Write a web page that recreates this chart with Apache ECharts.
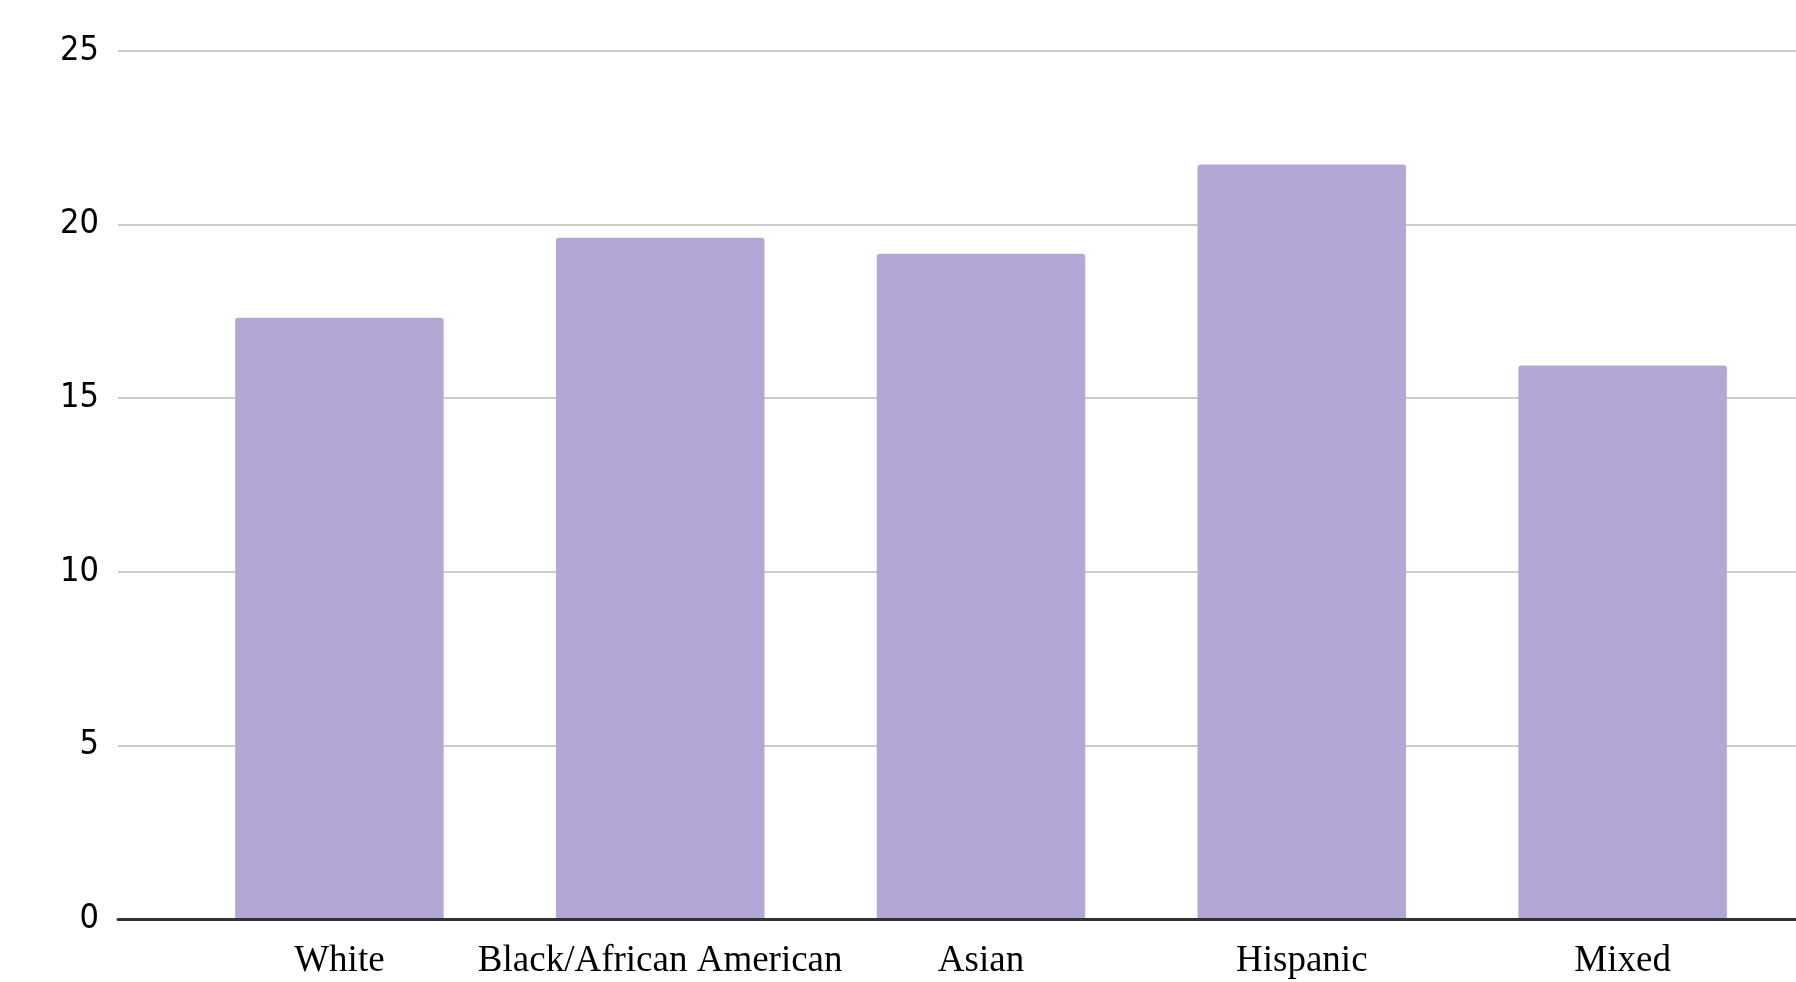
<!DOCTYPE html>
<html>
<head>
<meta charset="utf-8">
<script src="https://cdn.jsdelivr.net/npm/echarts@6/dist/echarts.min.js"></script>
<style>
  html, body { margin: 0; padding: 0; background: #ffffff; }
  #chart { width: 1796px; height: 982px; }
</style>
</head>
<body>
<div id="chart"></div>
<script>
const categories = ["White", "Black/African American", "Asian", "Hispanic", "Mixed"];
const values = [17.32, 19.62, 19.16, 21.73, 15.94];
const yTicks = { min: 0, max: 25, interval: 5 };

const chart = echarts.init(document.getElementById('chart'), null, { renderer: 'canvas' });

const option = {
  animation: false,
  backgroundColor: '#ffffff',
  grid: [
    { left: 118, right: 0, top: 51, bottom: 63 },
    { left: 179, right: 13, top: 51, bottom: 63 }
  ],
  xAxis: [
    {
      gridIndex: 0,
      type: 'value',
      min: 0,
      max: 1,
      z: 10,
      axisLine: { show: true, onZero: false, lineStyle: { color: '#333333', width: 3 } },
      axisTick: { show: false },
      axisLabel: { show: false },
      splitLine: { show: false }
    },
    {
      gridIndex: 1,
      type: 'category',
      data: categories,
      axisLine: { show: false },
      axisTick: { show: false },
      axisLabel: {
        interval: 0,
        margin: 24,
        color: '#000000',
        fontFamily: '"Liberation Serif", "Times New Roman", serif',
        fontSize: 37
      },
      splitLine: { show: false }
    }
  ],
  yAxis: [
    {
      gridIndex: 0,
      type: 'value',
      min: yTicks.min,
      max: yTicks.max,
      interval: yTicks.interval,
      axisLine: { show: false },
      axisTick: { show: false },
      axisLabel: {
        margin: 19,
        color: '#000000',
        fontFamily: '"DejaVu Sans Condensed", "Liberation Sans", sans-serif',
        fontSize: 34
      },
      splitLine: { show: true, lineStyle: { color: '#cccccc', width: 2 } }
    },
    {
      gridIndex: 1,
      type: 'value',
      min: yTicks.min,
      max: yTicks.max,
      interval: yTicks.interval,
      show: false,
      splitLine: { show: false }
    }
  ],
  series: [
    {
      type: 'bar',
      xAxisIndex: 1,
      yAxisIndex: 1,
      data: values,
      barWidth: '65%',
      itemStyle: { color: '#b4a7d6', borderRadius: [3, 3, 0, 0] }
    }
  ]
};

chart.setOption(option);
</script>
</body>
</html>
